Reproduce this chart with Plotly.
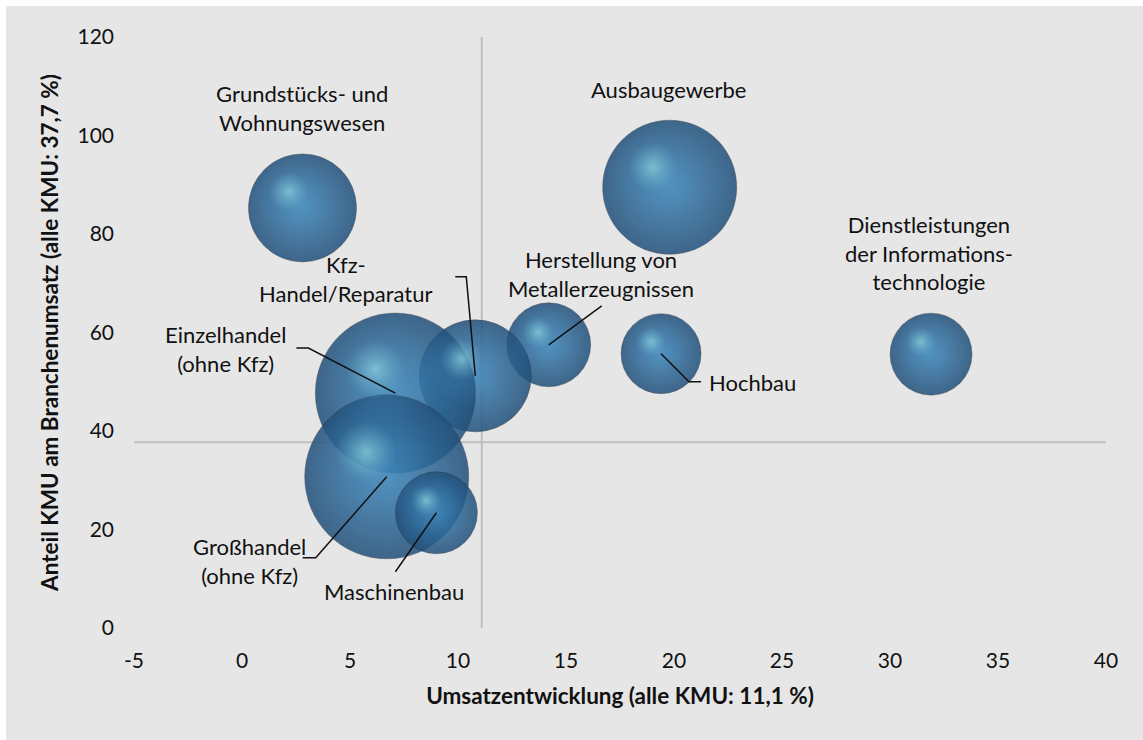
import plotly.graph_objects as go
import numpy as np

# --- data -----------------------------------------------------------------
branchen = [
    "Grundstücks- und Wohnungswesen",
    "Ausbaugewerbe",
    "Dienstleistungen der Informationstechnologie",
    "Hochbau",
    "Herstellung von Metallerzeugnissen",
    "Kfz-Handel/Reparatur",
    "Einzelhandel (ohne Kfz)",
    "Großhandel (ohne Kfz)",
    "Maschinenbau",
]
umsatzentwicklung = [2.8, 19.8, 31.9, 19.4, 14.2, 10.8, 7.1, 6.7, 9.0]   # %
anteil_kmu = [85.3, 89.5, 55.6, 55.7, 57.5, 51.2, 47.7, 30.7, 23.4]       # %
blasengroesse = [43.4, 66.8, 25.0, 23.8, 26.2, 46.6, 95.2, 100.0, 25.0]   # relative bubble area

alle_kmu_umsatz = 11.1
alle_kmu_anteil = 37.7

x_ticks = [-5, 0, 5, 10, 15, 20, 25, 30, 35, 40]
y_ticks = [0, 20, 40, 60, 80, 100, 120]

# --- label layout: text and leader lines, pixel offsets from bubble centre
# (screen convention: +x right, +y down)
label_text = [
    "Grundstücks- und<br>Wohnungswesen",
    "Ausbaugewerbe",
    "Dienstleistungen<br>der Informations-<br>technologie",
    "Hochbau",
    "Herstellung von<br>Metallerzeugnissen",
    "Kfz-<br>Handel/Reparatur",
    "Einzelhandel<br>(ohne Kfz)",
    "Großhandel<br>(ohne Kfz)",
    "Maschinenbau",
]
label_offset = [(0, -100), (-1, -98), (-2, -101), (91, 29), (52, -71),
                (-130, -97), (-170, -44), (-137, 84), (-42, 79)]
leader = [None, None, None,
          [(0, 0), (28, 28), (40, 28)],
          [(0, 0), (53, -39)],
          [(0, 0), (-9, -99), (-20, -99)],
          [(0, 0), (-87, -45), (-99, -45)],
          [(0, 0), (-71, 81), (-84, 81)],
          [(0, 0), (-41, 59)]]

# --- geometry ---------------------------------------------------------------
W, H = 1143, 740
M = dict(l=134, r=37, t=37, b=112, pad=0)
PW = W - M["l"] - M["r"]
PH = H - M["t"] - M["b"]
X_RANGE = [-5, 40]
Y_RANGE = [0, 120]
px_x = PW / (X_RANGE[1] - X_RANGE[0])
px_y = PH / (Y_RANGE[1] - Y_RANGE[0])

# area mode: marker radius (px) = sqrt(size / (2 * sizeref))
SIZEREF = 100.0 / (2 * 82.0 ** 2)
xs = np.array(umsatzentwicklung)
ys = np.array(anteil_kmu)
sz = np.array(blasengroesse)
r_px = np.sqrt(sz / (2 * SIZEREF))

FONT = "Lato"
TXT = "#111111"

fig = go.Figure()

# sphere body (radial gradient: marker colour = rim, gradient colour = centre)
fig.add_trace(go.Scatter(
    x=xs, y=ys, mode="markers", hoverinfo="skip",
    marker=dict(size=sz, sizemode="area", sizeref=SIZEREF,
                color="rgb(34,80,122)", opacity=0.85,
                gradient=dict(type="radial", color="rgb(58,131,184)"),
                line=dict(width=0.8, color="rgba(40,50,60,0.55)")),
))
# soft light on the upper-left half
fig.add_trace(go.Scatter(
    x=xs - 0.18 * r_px / px_x, y=ys + 0.22 * r_px / px_y,
    mode="markers", hoverinfo="skip",
    marker=dict(size=sz * 0.55, sizemode="area", sizeref=SIZEREF,
                color="rgba(70,140,190,0)",
                gradient=dict(type="radial", color="rgba(76,148,196,0.5)"),
                line=dict(width=0)),
))
# specular highlight
fig.add_trace(go.Scatter(
    x=xs - 0.25 * r_px / px_x, y=ys + 0.3 * r_px / px_y,
    mode="markers", hoverinfo="skip",
    marker=dict(size=sz * 0.14, sizemode="area", sizeref=SIZEREF,
                color="rgba(110,180,205,0)",
                gradient=dict(type="radial", color="rgba(145,215,222,1)"),
                line=dict(width=0)),
))

shapes = [
    # white frame strips at top and left
    dict(type="rect", xref="paper", yref="paper", layer="below",
         x0=-M["l"] / PW, x1=(-M["l"] + 6) / PW, y0=-M["b"] / PH, y1=1 + M["t"] / PH,
         fillcolor="white", line=dict(width=0)),
    dict(type="rect", xref="paper", yref="paper", layer="below",
         x0=-M["l"] / PW, x1=1 + M["r"] / PW, y0=1 + (M["t"] - 6) / PH, y1=1 + M["t"] / PH,
         fillcolor="white", line=dict(width=0)),
    # averages over all KMU
    dict(type="line", xref="x", yref="paper", x0=alle_kmu_umsatz, x1=alle_kmu_umsatz,
         y0=0, y1=1, line=dict(color="#bfbfbf", width=2), layer="below"),
    dict(type="line", xref="paper", yref="y", x0=0, x1=1,
         y0=alle_kmu_anteil, y1=alle_kmu_anteil, line=dict(color="#bfbfbf", width=2), layer="below"),
]

annotations = []
for i in range(len(branchen)):
    dx, dy = label_offset[i]
    annotations.append(dict(
        x=xs[i], y=ys[i], xref="x", yref="y", text=label_text[i],
        showarrow=False, xshift=dx, yshift=-dy, align="center",
        xanchor="center", yanchor="middle",
        font=dict(family=FONT, size=22, color=TXT)))
    if leader[i]:
        pts = leader[i]
        path = "M " + " L ".join(f"{px} {-py}" for px, py in pts)
        shapes.append(dict(type="path", path=path,
                           xsizemode="pixel", ysizemode="pixel",
                           xanchor=xs[i], yanchor=ys[i], xref="x", yref="y",
                           line=dict(color="#111111", width=1.5)))

fig.update_layout(
    width=W, height=H, autosize=False, margin=M,
    paper_bgcolor="#e6e6e6", plot_bgcolor="#e6e6e6",
    showlegend=False,
    font=dict(family=FONT, size=21, color=TXT),
    shapes=shapes, annotations=annotations,
    xaxis=dict(range=X_RANGE, tickvals=x_ticks, ticktext=[str(t) for t in x_ticks],
               showgrid=False, zeroline=False, showline=False, ticks="",
               ticklabelstandoff=18, tickfont=dict(family=FONT, size=21, color=TXT),
               title=dict(text="Umsatzentwicklung (alle KMU: 11,1 %)", standoff=17,
                          font=dict(family=FONT, size=22.5, color=TXT, weight="bold"))),
    yaxis=dict(range=Y_RANGE, tickvals=y_ticks, ticktext=[str(t) for t in y_ticks],
               showgrid=False, zeroline=False, showline=False, ticks="",
               ticklabelstandoff=19, tickfont=dict(family=FONT, size=21, color=TXT),
               title=dict(text="Anteil KMU am Branchenumsatz (alle KMU: 37,7 %)", standoff=12,
                          font=dict(family=FONT, size=22.5, color=TXT, weight="bold"))),
)

fig.write_html("out.html")
